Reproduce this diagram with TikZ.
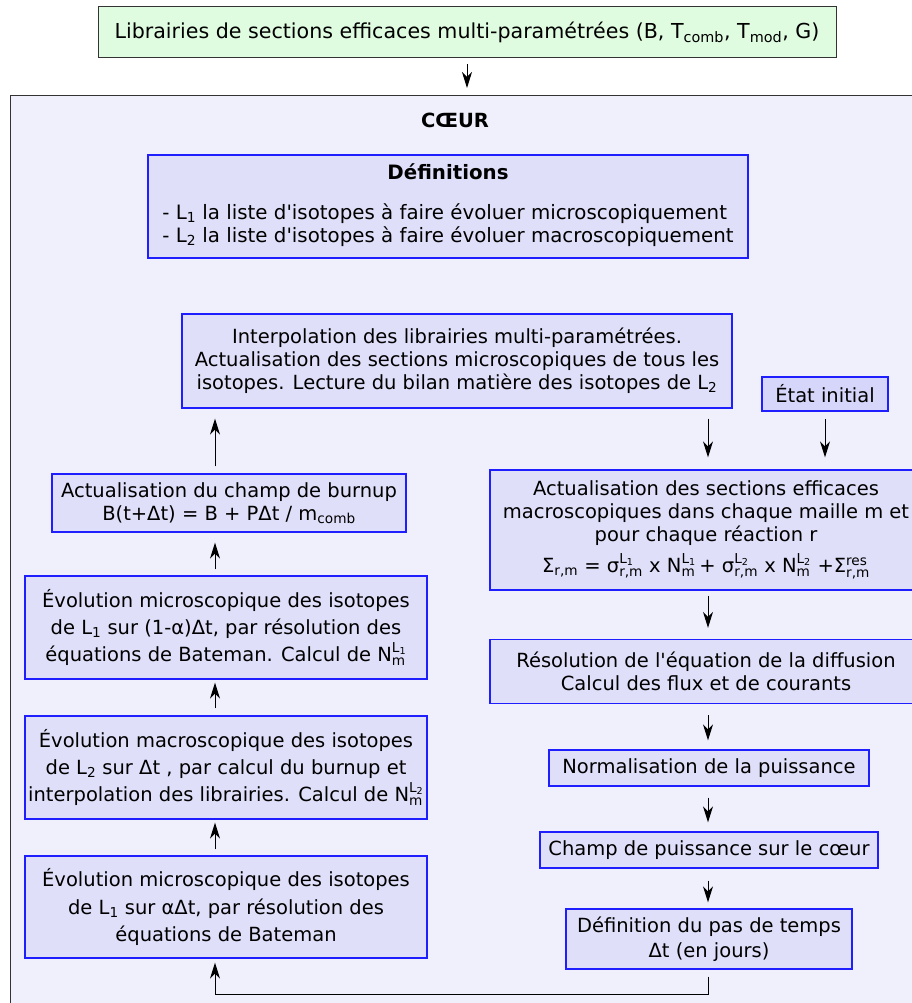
\documentclass[tikz,border=0pt]{standalone}
\usepackage{fontspec}
\usepackage{amsmath}
\newfontfamily\dv{DejaVu Sans}
\usetikzlibrary{arrows.meta}
\definecolor{corefill}{RGB}{240,240,252}
\definecolor{boxfill}{RGB}{223,223,250}
\definecolor{etatfill}{RGB}{214,214,250}
\definecolor{topfill}{RGB}{224,252,224}
\definecolor{boxblue}{RGB}{30,30,255}
\newcommand\su[1]{$_{\text{#1}}$}
\newcommand\ud[2]{$^{\text{#1}}_{\text{#2}}$}
\begin{document}
\begin{tikzpicture}[x=1pt,y=-1pt,
  box/.style={draw=boxblue, line width=1.3pt, fill=boxfill, inner sep=0pt, align=center,
    font=\dv\fontsize{19.5}{23}\selectfont},
  tallbox/.style={box, font=\dv\fontsize{19.5}{27.3}\selectfont},
  arr/.style={-{Stealth[length=16pt,width=10pt,inset=5pt]}, line width=1pt},
]
\useasboundingbox (0,0) rectangle (912,1003);
\fill[white] (0,0) rectangle (912,1003);
\node[draw=black!80, line width=1pt, fill=corefill, anchor=north west, minimum width=940pt,
  minimum height=940pt, inner sep=0pt] (core) at (10,95) {};
\node[box, draw=black!80, line width=1pt, fill=topfill, minimum width=738pt, minimum height=51pt,
  font=\dv\fontsize{20.6}{24}\selectfont]
  (lib) at (467,32.5) {Librairies de sections efficaces multi-paramétrées (B, T\su{comb}, T\su{mod}, G)};
\draw[arr, shorten <=6pt, shorten >=7pt] (lib.south) -- (lib.south |- core.north);
\node[font=\dv\bfseries\fontsize{19.5}{23}\selectfont] (title) at (455,120) {CŒUR};
\node[box, minimum width=600pt, minimum height=103pt, font=\dv\fontsize{19.8}{23.5}\selectfont] (def) at (448,206.5)
  {\begin{tabular}{@{}l@{}}\multicolumn{1}{@{}c@{}}{\bfseries Définitions}\\[16pt]
   - L\su{1} la liste d'isotopes à faire évoluer microscopiquement\\
   - L\su{2} la liste d'isotopes à faire évoluer macroscopiquement\end{tabular}};
\node[box, minimum width=550pt, minimum height=94pt] (interp) at (457,361)
  {Interpolation des librairies multi-paramétrées.\\
   Actualisation des sections microscopiques de tous les\\
   isotopes. Lecture du bilan matière des isotopes de L\su{2}};
\node[box, fill=etatfill, line width=1.8pt, minimum width=126pt, minimum height=34pt] (etat) at (825,394)
  {État initial};
\node[box, minimum width=432pt, minimum height=120pt] (macro) at (706,530)
  {Actualisation des sections efficaces\\
   macroscopiques dans chaque maille m et\\
   pour chaque réaction r\\[7pt]
   Σ\su{r,m} = σ\ud{L$_{\text{1}}$}{r,m} x N\ud{L$_{\text{1}}$}{m}\,+ σ\ud{L$_{\text{2}}$}{r,m} x N\ud{L$_{\text{2}}$}{m} +Σ\ud{res}{r,m}};
\node[box, minimum width=354pt, minimum height=58pt] (burnup) at (229,503)
  {Actualisation du champ de burnup\\ B(t+Δt) = B + PΔt / m\su{comb}};
\node[tallbox, minimum width=402pt, minimum height=103pt] (evol1) at (226,627.5)
  {Évolution microscopique des isotopes\\
   de L\su{1} sur (1-α)Δt, par résolution des\\
   équations de Bateman. Calcul de N\ud{L$_{\text{1}}$}{m}};
\node[tallbox, minimum width=402pt, minimum height=103pt] (evol2) at (226,767.5)
  {Évolution macroscopique des isotopes\\
   de L\su{2} sur Δt , par calcul du burnup et\\
   interpolation des librairies. Calcul de N\ud{L$_{\text{2}}$}{m}};
\node[tallbox, minimum width=402pt, minimum height=102pt] (evol3) at (226,907)
  {Évolution microscopique des isotopes\\
   de L\su{1} sur αΔt, par résolution des\\
   équations de Bateman};
\node[box, minimum width=432pt, minimum height=64pt] (diff) at (706,671.5)
  {Résolution de l'équation de la diffusion\\ Calcul des flux et de courants};
\node[box, minimum width=320pt, minimum height=36pt] (norm) at (709,768)
  {Normalisation de la puissance};
\node[box, minimum width=338pt, minimum height=36pt] (champ) at (709,850)
  {Champ de puissance sur le cœur};
\node[box, minimum width=286pt, minimum height=60pt, font=\dv\fontsize{19.5}{25}\selectfont] (pas) at (709,939)
  {Définition du pas de temps\\ Δt (en jours)};
\coordinate (L) at (215,0);
\coordinate (R) at (708,0);
\draw[arr, shorten <=10pt, shorten >=12pt] (interp.south -| R) -- (macro.north -| R);
\draw[arr, shorten <=7pt, shorten >=12pt] (etat.south) -- (etat.south |- macro.north);
\draw[arr, shorten <=5pt, shorten >=11pt] (macro.south -| R) -- (diff.north -| R);
\draw[arr, shorten <=11pt, shorten >=9pt] (diff.south -| R) -- (norm.north -| R);
\draw[arr, shorten <=11pt, shorten >=9pt] (norm.south -| R) -- (champ.north -| R);
\draw[arr, shorten <=12pt, shorten >=6pt] (champ.south -| R) -- (pas.north -| R);
\draw[arr, shorten <=7pt, shorten >=10pt] (burnup.north -| L) -- (interp.south -| L);
\draw[arr, shorten <=6pt, shorten >=10pt] (evol1.north -| L) -- (burnup.south -| L);
\draw[arr, shorten <=7pt, shorten >=3pt] (evol2.north -| L) -- (evol1.south -| L);
\draw[arr, shorten <=6pt, shorten >=3pt] (evol3.north -| L) -- (evol2.south -| L);
\draw[arr, shorten >=4pt] ([yshift=-7pt]pas.south -| R) |- ([yshift=-36pt]evol3.south -| L) -- (evol3.south -| L);
\end{tikzpicture}
\end{document}
